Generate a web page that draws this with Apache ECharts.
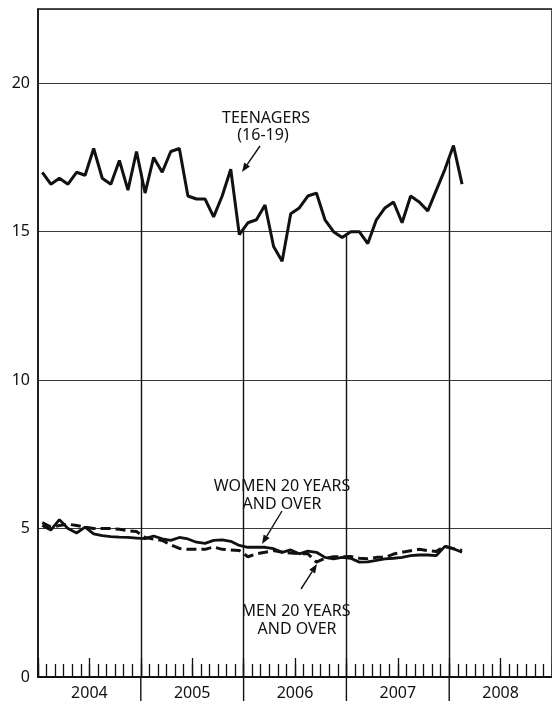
<!DOCTYPE html>
<html>
<head>
<meta charset="utf-8">
<script src="https://cdn.jsdelivr.net/npm/echarts@6/dist/echarts.min.js"></script>
<style>
html,body{margin:0;padding:0;background:#fff;}
#chart{width:552px;height:704px;}
#err{position:absolute;left:0;top:0;font:10px monospace;color:red;white-space:pre-wrap;width:552px;}
</style>
</head>
<body>
<div id="chart"></div>
<div id="err"></div>
<script>
// Monthly unemployment rates, Jan 2004 – Feb 2008
var years = ['2004', '2005', '2006', '2007', '2008'];
var halfYears = ['', '', '', '', '', '', '', '', '', ''];
var yTicks = [0, 5, 10, 15, 20];

var teenagers = [
  17.0, 16.6, 16.8, 16.6, 17.0, 16.9, 17.8, 16.8, 16.6, 17.4, 16.4, 17.7,
  16.3, 17.5, 17.0, 17.7, 17.8, 16.2, 16.1, 16.1, 15.5, 16.2, 17.1, 14.9,
  15.3, 15.4, 15.9, 14.5, 14.0, 15.6, 15.8, 16.2, 16.3, 15.4, 15.0, 14.8,
  15.0, 15.0, 14.6, 15.4, 15.8, 16.0, 15.3, 16.2, 16.0, 15.7, 16.4, 17.1,
  17.9, 16.6
];
var women20 = [
  5.10, 4.95, 5.30, 5.00, 4.85, 5.05, 4.82, 4.76, 4.73, 4.71, 4.70, 4.68,
  4.66, 4.75, 4.65, 4.60, 4.70, 4.65, 4.54, 4.50, 4.60, 4.62, 4.57, 4.43,
  4.37, 4.37, 4.37, 4.32, 4.20, 4.28, 4.15, 4.24, 4.20, 4.03, 3.98, 4.03,
  4.00, 3.87, 3.88, 3.93, 3.98, 4.00, 4.03, 4.09, 4.11, 4.11, 4.09, 4.40,
  4.32, 4.20
];
var men20 = [
  5.20, 5.05, 5.10, 5.15, 5.10, 5.05, 5.00, 5.00, 5.00, 4.98, 4.93, 4.90,
  4.70, 4.65, 4.60, 4.45, 4.33, 4.30, 4.30, 4.30, 4.38, 4.30, 4.28, 4.26,
  4.05, 4.15, 4.20, 4.26, 4.20, 4.18, 4.15, 4.15, 3.87, 4.00, 4.05, 4.05,
  4.06, 4.00, 3.98, 4.03, 4.03, 4.14, 4.20, 4.25, 4.30, 4.26, 4.23, 4.40,
  4.32, 4.26
];
var yearStarts = [12, 24, 36, 48];

var INK = '#111';
var FONT = '"Noto Sans", "Liberation Sans", sans-serif';

function toPoints(arr) {
  return arr.map(function (v, i) { return [i + 0.5, v]; });
}

// year-boundary verticals: from the axis up to the teenager curve
var boundaryLines = yearStarts.map(function (m) {
  var topV = (teenagers[m - 1] + teenagers[m]) / 2;
  return [{ coord: [m, 0] }, { coord: [m, topV] }];
});

function arrow(x1, y1, x2, y2) {
  var dx = x2 - x1, dy = y2 - y1, L = Math.sqrt(dx * dx + dy * dy);
  dx /= L; dy /= L;
  var hl = 9, hw = 3.5;
  var bx = x2 - dx * hl, by = y2 - dy * hl;
  return [
    { type: 'line', shape: { x1: x1, y1: y1, x2: bx, y2: by }, style: { stroke: INK, lineWidth: 1.4 } },
    { type: 'polygon', shape: { points: [[x2, y2], [bx - dy * hw, by + dx * hw], [bx + dy * hw, by - dx * hw]] }, style: { fill: INK } }
  ];
}
function label(text, x, y) {
  return { type: 'text', style: { text: text, x: x, y: y, align: 'center', verticalAlign: 'middle',
    fill: INK, fontSize: 16, fontFamily: FONT } };
}

var graphics = []
  .concat([label('TEENAGERS', 266, 118), label('(16-19)', 263, 135)])
  .concat(arrow(260, 146, 242, 172))
  .concat([label('WOMEN 20 YEARS', 282, 486), label('AND OVER', 282, 504)])
  .concat(arrow(282, 511, 262, 544))
  .concat([label('MEN 20 YEARS', 296, 611), label('AND OVER', 297, 629)])
  .concat(arrow(301, 589, 317, 564));

var option = {
  animation: false,
  backgroundColor: '#fff',
  grid: { left: 38, top: 9, width: 522, height: 668, show: true, borderColor: INK, borderWidth: 1.5 },
  xAxis: [
    {
      type: 'value', min: 0, max: 60, interval: 1, position: 'bottom',
      splitLine: { show: false },
      axisLine: { show: true, onZero: false, lineStyle: { color: INK, width: 2 } },
      axisTick: { show: true, inside: true, length: 13, lineStyle: { color: INK, width: 1.3 } },
      axisLabel: { show: false }
    },
    {
      type: 'category', data: halfYears, boundaryGap: true, position: 'bottom',
      splitLine: { show: false },
      axisLine: { show: false },
      axisTick: { show: true, inside: true, length: 19, interval: 0, lineStyle: { color: INK, width: 1.3 } },
      axisLabel: { show: false }
    },
    {
      type: 'category', data: years, boundaryGap: true, position: 'bottom',
      splitLine: { show: false },
      axisLine: { show: false },
      axisTick: { show: false },
      axisLabel: { show: true, interval: 0, margin: 8, color: INK, fontSize: 16, fontFamily: FONT }
    }
  ],
  yAxis: {
    type: 'value', min: 0, max: 22.5, interval: 5,
    axisLine: { show: true, lineStyle: { color: INK, width: 1.5 } },
    axisTick: { show: false },
    axisLabel: { color: INK, fontSize: 16, fontFamily: FONT, margin: 8,
      formatter: function (v) { return yTicks.indexOf(v) >= 0 ? String(v) : ''; } },
    splitLine: { show: true, lineStyle: { color: '#3a3a3a', width: 1.2 } }
  },
  series: [
    {
      name: 'Teenagers (16-19)', type: 'line', xAxisIndex: 0, data: toPoints(teenagers), showSymbol: false,
      lineStyle: { color: INK, width: 3 },
      markLine: { silent: true, symbol: 'none', label: { show: false },
        lineStyle: { color: INK, width: 1.4, type: 'solid' }, data: boundaryLines }
    },
    {
      name: 'Women 20 years and over', type: 'line', xAxisIndex: 0, data: toPoints(women20), showSymbol: false,
      lineStyle: { color: INK, width: 2.8 }
    },
    {
      name: 'Men 20 years and over', type: 'line', xAxisIndex: 0, data: toPoints(men20), showSymbol: false,
      lineStyle: { color: INK, width: 3, type: [10, 5] }
    }
  ],
  graphic: graphics
};

try {
  var chart = echarts.init(document.getElementById('chart'), null, { renderer: 'canvas' });
  chart.setOption(option);
  // long year-boundary ticks below the axis, positioned through the chart's own scale
  var extra = yearStarts.map(function (m) {
    var p = chart.convertToPixel({ xAxisIndex: 0, yAxisIndex: 0 }, [m, 0]);
    return { type: 'line', shape: { x1: p[0], y1: p[1], x2: p[0], y2: p[1] + 24 },
      style: { stroke: INK, lineWidth: 1.4 } };
  });
  chart.setOption({ graphic: graphics.concat(extra) });
} catch (e) {
  document.getElementById('err').textContent = String(e && e.stack || e).slice(0, 1500);
}
</script>
</body>
</html>
